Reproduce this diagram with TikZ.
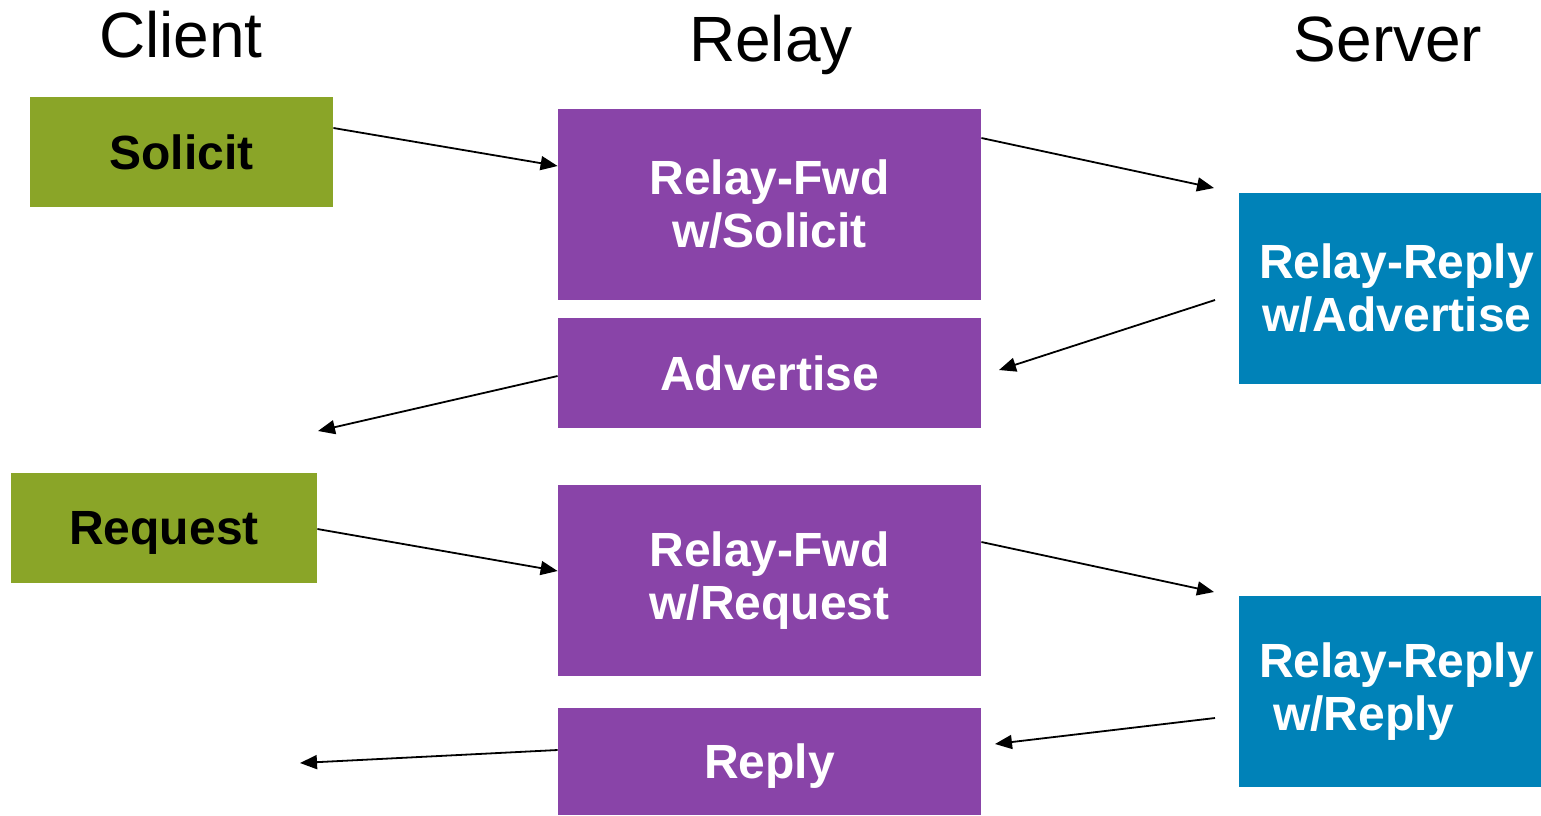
\documentclass[tikz,border=0pt]{standalone}
\usepackage{fontspec}
\setmainfont{Liberation Sans}
\usetikzlibrary{arrows, arrows.meta}
\usetikzlibrary{calc}
\definecolor{cligreen}{RGB}{138,165,40}
\definecolor{relpurple}{RGB}{137,68,168}
\definecolor{srvblue}{RGB}{0,130,184}

\begin{document}
\begin{tikzpicture}[x=0.5pt, y=-0.5pt,
    title/.style={anchor=base, font=\fontsize{32}{38}\selectfont},
    msg/.style={rectangle, inner sep=0pt, font=\fontsize{24}{26.5}\selectfont\bfseries, align=center},
    cli/.style={msg, fill=cligreen, text=black, minimum width=151.5pt, minimum height=55pt, text depth=0pt},
    rel/.style={msg, fill=relpurple, text=white, minimum width=211.5pt},
    srv/.style={msg, fill=srvblue, text=white, align=left, minimum width=151pt, minimum height=95.5pt},
    flow/.style={-{Triangle[length=8.5pt, width=7pt]}, line width=0.9pt}]
          \useasboundingbox (0,0) rectangle (1541,815);

          \node[title] (tcli) at (181,57) {Client};
          \node[title] (trel) at (771,61) {Relay};
          \node[title] (tsrv) at (1388,61) {Server};

          \node[cli] (sol) at (181.5,152) {Solicit};
          \node[cli, minimum width=153pt] (req) at (164,528) {Request};
          \node[rel, minimum height=95.5pt] (fwdsol) at (769.5,204.5) {Relay-Fwd\\w/Solicit};
          \node[rel, minimum height=55pt] (adv) at (769.5,373) {Advertise};
          \node[rel, minimum height=95.5pt] (fwdreq) at (769.5,580.5) {Relay-Fwd\\w/Request};
          \node[rel, minimum height=53.5pt, text depth=0pt] (rep) at (769.5,761.5) {Reply};
          \node[srv] (rradv) at (1390,288.5) {\hspace*{6.5pt}Relay-Reply\\\hspace*{8pt}w/Advertise};
          \node[srv] (rrrep) at (1390,691.5) {\hspace*{6.5pt}Relay-Reply\\\hspace*{13.5pt}w/Reply};

          \coordinate (e2) at (1214,188);
          \coordinate (s3) at (1215,300);
          \coordinate (e3) at (999,370);
          \coordinate (e4) at (318,431);
          \coordinate (e6) at (1214,592);
          \coordinate (s7) at (1215,718);
          \coordinate (e7) at (995,744);
          \coordinate (e8) at (300,763);

          \draw[flow] ($(sol.east)+(0,-24)$) -- ($(fwdsol.west)+(0,-38.5)$);
          \draw[flow] ($(fwdsol.east)+(0,-66.5)$) -- (e2);
          \draw[flow] (s3) -- (e3);
          \draw[flow] ($(adv.west)+(0,3)$) -- (e4);
          \draw[flow] ($(req.east)+(0,1)$) -- ($(fwdreq.west)+(0,-9.5)$);
          \draw[flow] ($(fwdreq.east)+(0,-38.5)$) -- (e6);
          \draw[flow] (s7) -- (e7);
          \draw[flow] ($(rep.west)+(0,-11.5)$) -- (e8);
        \end{tikzpicture}
\end{document}
